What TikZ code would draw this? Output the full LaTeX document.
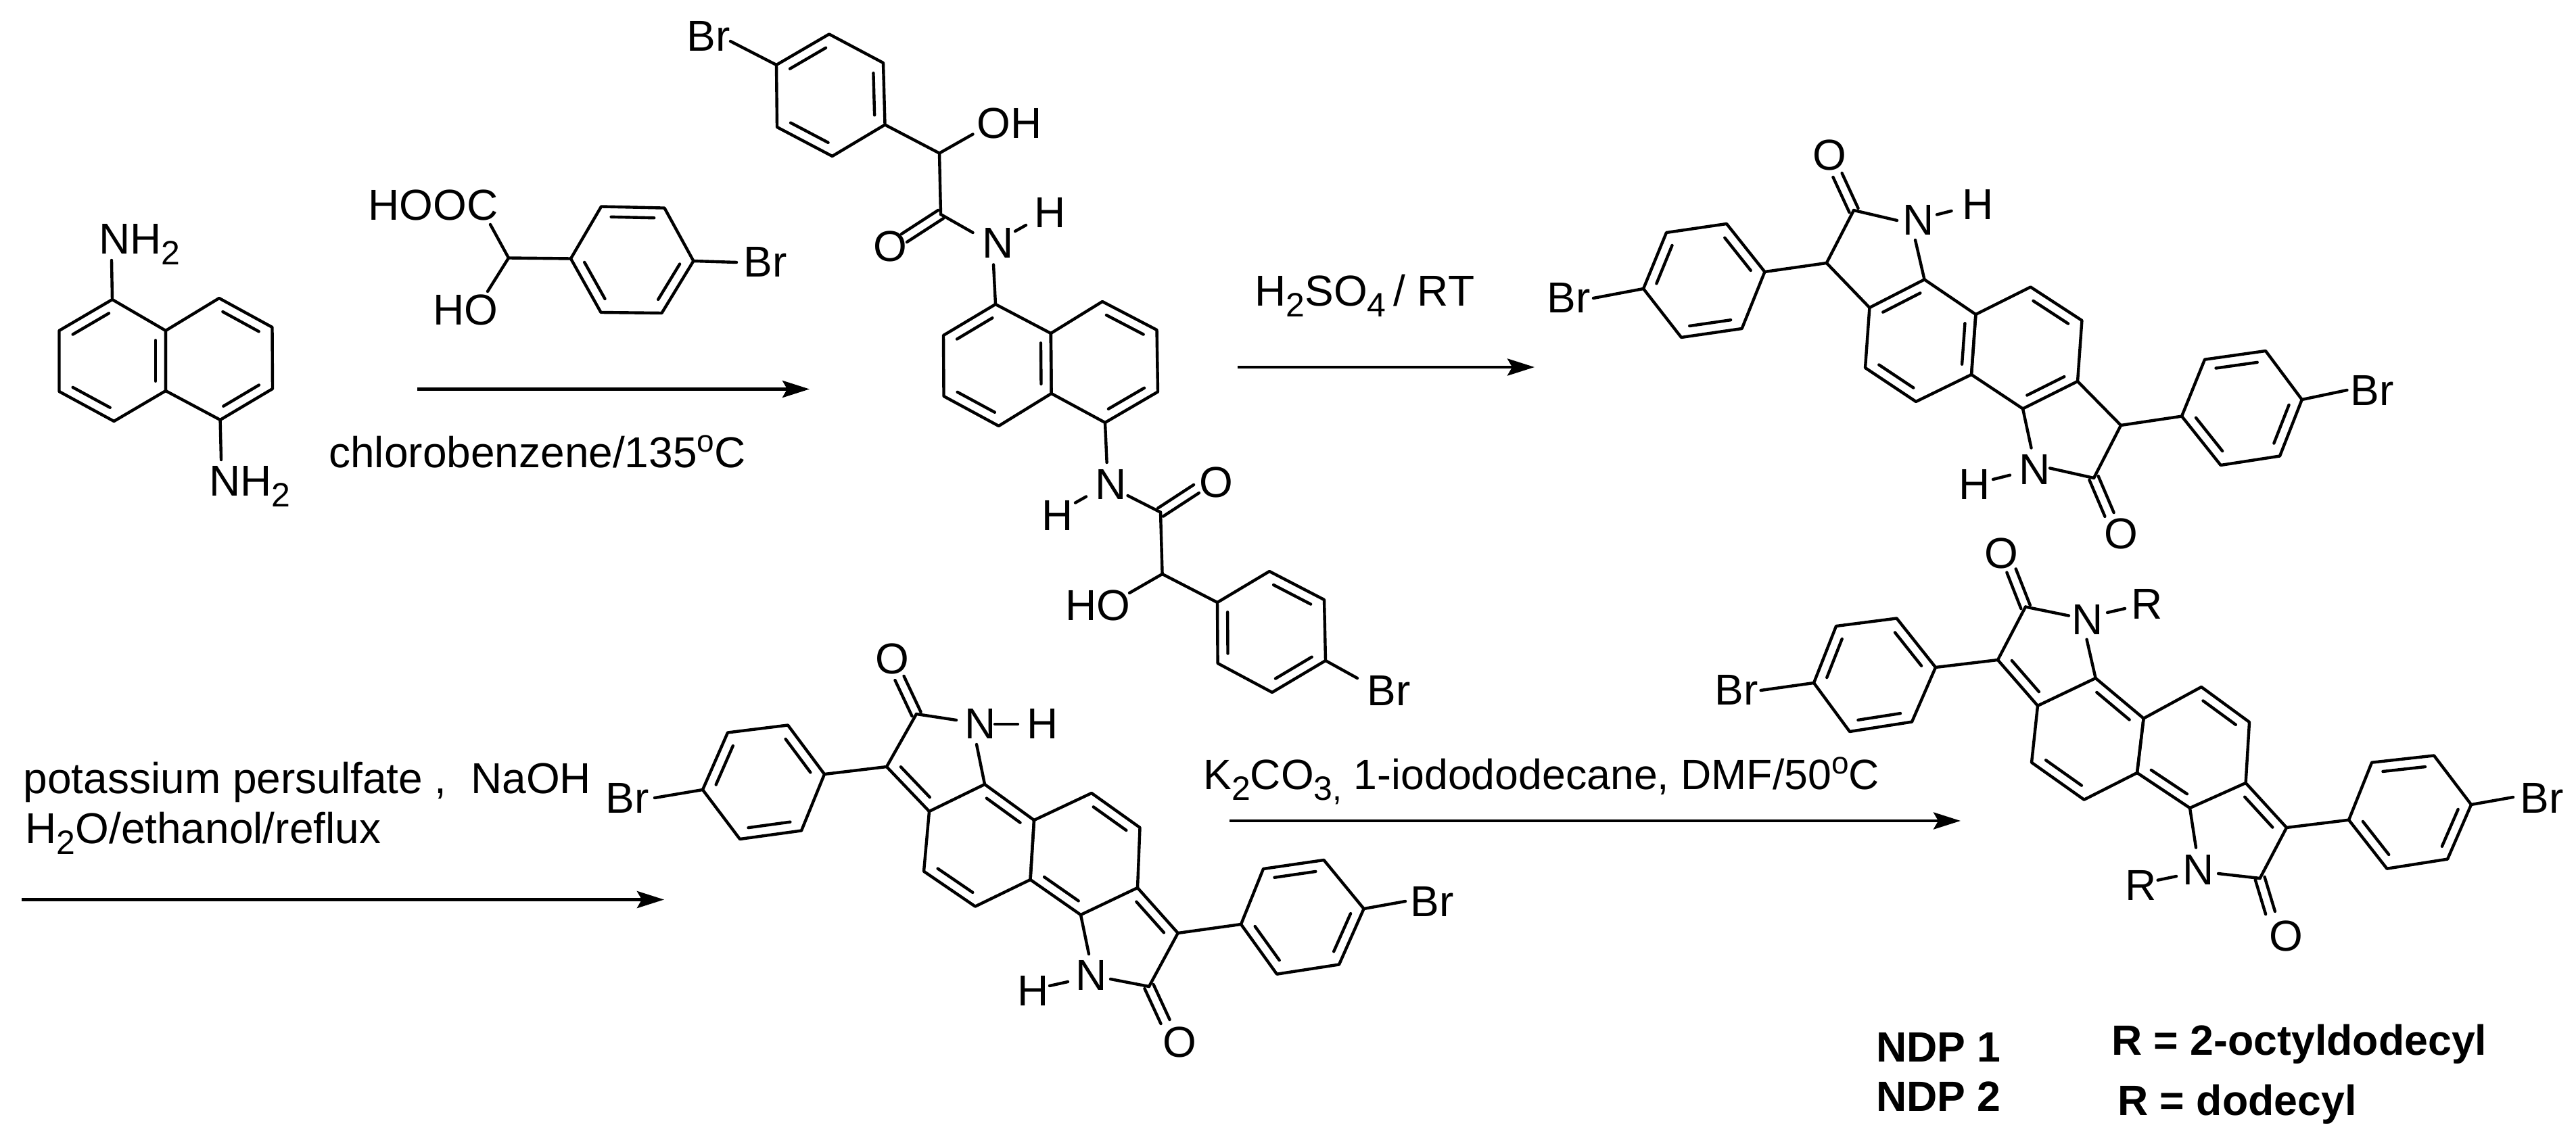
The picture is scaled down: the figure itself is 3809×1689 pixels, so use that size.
\documentclass[tikz,border=0pt]{standalone}
\usepackage{fontspec}
\setmainfont{Liberation Sans}
\usetikzlibrary{calc,arrows.meta}
\newcommand{\pt}[3]{\coordinate (#1) at (#2,#3);}
% six-membered ring: vertices listed clockwise on the page
\newcommand{\ringsix}[7]{%
  \coordinate (#1-1) at (#2);\coordinate (#1-2) at (#3);\coordinate (#1-3) at (#4);%
  \coordinate (#1-4) at (#5);\coordinate (#1-5) at (#6);\coordinate (#1-6) at (#7);%
  \draw[bond] (#1-1)--(#1-2)--(#1-3)--(#1-4)--(#1-5)--(#1-6)--cycle;}
% inner line of a double bond: a to b clockwise round the ring
\newcommand{\db}[2]{\draw[bond] ($(#1)!.16!(#2)!7.5pt!-90:(#2)$) -- ($(#2)!.16!(#1)!7.5pt!90:(#1)$);}
% centred double bond of a carbonyl
\newcommand{\co}[2]{\draw[bond] ($(#1)!3.6pt!90:(#2)$) -- ($(#2)!3.6pt!-90:(#1)$);
  \draw[bond] ($(#1)!3.6pt!-90:(#2)$) -- ($(#2)!3.6pt!90:(#1)$);}
\newcommand{\bd}[2]{\draw[bond] (#1) -- (#2);}
\newcommand{\lab}[4]{\node[lab] (#1) at (#2,#3) {#4};}
\newcommand{\subs}[1]{\raisebox{-8pt}{\fontsize{25}{25}\selectfont #1}}
\newcommand{\sups}[1]{\raisebox{11.5pt}{\fontsize{23}{23}\selectfont #1}}
\tikzset{
  bond/.style={line width=2.2pt,line join=round,line cap=round,black},
  lab/.style={inner sep=0pt,anchor=base west,font=\fontsize{32}{35}\selectfont},
  boldlab/.style={lab,font=\fontsize{31.3}{34}\selectfont\bfseries},
  rxn/.style={line width=2.4pt,-{Stealth[length=20pt,width=12.5pt,inset=3.5pt]}}
}
\begin{document}
\begin{tikzpicture}[x=.5pt,y=-.5pt]
\useasboundingbox (0,0) rectangle (3809,1689);
% --- 1,5-diaminonaphthalene
\ringsix{aL}{166,443}{245,489}{245,578}{168.5,623}{87.5,579}{87.5,489}
\ringsix{aR}{245,489}{324,441}{402.5,484}{403,575}{325.6,621}{245,578}
\db{aL-6}{aL-1}\db{aL-2}{aL-3}\db{aL-4}{aL-5}\db{aR-2}{aR-3}\db{aR-4}{aR-5}
\lab{aN1}{146}{376}{NH\subs{2}}
\lab{aN2}{309}{733}{NH\subs{2}}
\pt{aE1}{165}{385}\pt{aE2}{327}{680}
\bd{aL-1}{aE1}\bd{aR-5}{aE2}
% --- mandelic acid
\ringsix{b}{844,382.5}{889,305.5}{982.5,307.6}{1025.4,386}{978.5,463}{888.5,462}
\db{b-2}{b-3}\db{b-4}{b-5}\db{b-6}{b-1}
\pt{bC}{752}{381.5}\pt{bE1}{725}{332}\pt{bE2}{721}{431}\pt{bE3}{1089}{388}
\bd{bC}{b-1}\bd{bC}{bE1}\bd{bC}{bE2}\bd{b-4}{bE3}
\lab{bHOOC}{544}{326}{HOOC}
\lab{bHO}{640}{481}{HO}
\lab{bBr}{1099}{410}{Br}
% --- arrow 1
\pt{r1s}{617}{575.5}\pt{r1e}{1197}{575.5}
\draw[rxn] (r1s) -- (r1e);
\lab{r1t}{486}{691}{chlorobenzene/135\sups{o}C}
% --- bis-amide
\ringsix{cA}{1148,96}{1226,50.5}{1306,93}{1308.5,184.5}{1230.6,231}{1149,188}
\db{cA-1}{cA-2}\db{cA-3}{cA-4}\db{cA-5}{cA-6}
\lab{cBr1}{1015}{76}{Br}
\pt{cE1}{1080}{61}\bd{cE1}{cA-1}
\pt{cCH1}{1389}{226.6}\pt{cCO1}{1391}{317}\pt{cEO1}{1438.5}{198.5}\pt{cOe1}{1337}{352}
\bd{cA-4}{cCH1}\bd{cCH1}{cEO1}\bd{cCH1}{cCO1}\co{cCO1}{cOe1}
\lab{cOH1}{1444}{205}{OH}
\lab{cO1}{1291}{387}{O}
\lab{cN1}{1452}{382}{N}
\lab{cH1}{1529}{337}{H}
\pt{cEN1}{1438.5}{344}\bd{cCO1}{cEN1}
\pt{cNHa}{1501}{342}\pt{cNHb}{1517}{333}\bd{cNHa}{cNHb}
\ringsix{cL}{1472,450}{1553.8,493}{1554.6,582}{1476.7,630}{1395.5,586}{1395,496}
\ringsix{cR}{1553.8,493}{1630,446}{1710.5,488}{1712,579.5}{1634,625}{1554.6,582}
\db{cL-6}{cL-1}\db{cL-2}{cL-3}\db{cL-4}{cL-5}\db{cR-2}{cR-3}\db{cR-4}{cR-5}
\pt{cEN2}{1469}{391.4}\bd{cEN2}{cL-1}
\pt{cEN3}{1636.6}{684}\bd{cR-5}{cEN3}
\lab{cN2}{1619}{738}{N}
\lab{cH2}{1540}{784}{H}
\pt{cNHc}{1590}{743.6}\pt{cNHd}{1606}{734.5}\bd{cNHc}{cNHd}
\pt{cCO2}{1716}{757.6}\pt{cEN4}{1667.5}{733}\pt{cOe2}{1769}{723}\bd{cEN4}{cCO2}\co{cCO2}{cOe2}
\lab{cO2}{1773}{735}{O}
\pt{cCH2}{1718.6}{849}\pt{cEO2}{1670}{877}\bd{cCO2}{cCH2}\bd{cCH2}{cEO2}
\lab{cHO2}{1575}{917.6}{HO}
\ringsix{cB}{1800,891}{1877,845}{1958,887}{1960,977}{1881,1024}{1800.6,981}
\db{cB-2}{cB-3}\db{cB-4}{cB-5}\db{cB-6}{cB-1}
\bd{cCH2}{cB-1}
\pt{cE4}{2007}{1003}\bd{cB-4}{cE4}
\lab{cBr2}{2021}{1043}{Br}
% --- arrow 2
\pt{r2s}{1830}{543}\pt{r2e}{2269}{543}
\draw[rxn] (r2s) -- (r2e);
\lab{r2t}{1855}{452.5}{H\subs{2}SO\subs{4}\,/ RT}
% --- dihydro product
\ringsix{dP}{2430,427}{2464,344}{2553,331}{2609.4,402}{2575.6,486}{2486,499}
\db{dP-1}{dP-2}\db{dP-3}{dP-4}\db{dP-5}{dP-6}
\lab{dBr1}{2287}{462.5}{Br}
\pt{dE1}{2356}{441}\bd{dE1}{dP-1}
\ringsix{dL}{2845.5,413.4}{2921.4,465}{2915,554}{2833,594}{2758,544}{2764.4,455}
\ringsix{dR}{2921.4,465}{3002.5,424.5}{3078.4,474}{3072,564}{2991,604.5}{2915,554}
\db{dL-2}{dL-3}\db{dL-4}{dL-5}\db{dL-6}{dL-1}\db{dR-2}{dR-3}\db{dR-4}{dR-5}
\pt{dC3}{2700.8}{389}\pt{dC2}{2741}{311}\pt{dOe1}{2717}{259}
\bd{dP-4}{dC3}\bd{dC3}{dL-6}\bd{dC3}{dC2}\co{dC2}{dOe1}
\lab{dO1}{2680}{252}{O}
\lab{dN1}{2813}{348}{N}
\lab{dH1}{2901}{325}{H}
\pt{dEN1}{2805}{326}\bd{dC2}{dEN1}
\pt{dNHa}{2864}{317.4}\pt{dNHb}{2885.5}{312}\bd{dNHa}{dNHb}
\pt{dEN2}{2832}{355}\bd{dEN2}{dL-1}
\ringsix{dQ}{3226,615.6}{3260,531.7}{3350,519}{3403.7,591}{3371,674.5}{3283.6,688}
\db{dQ-2}{dQ-3}\db{dQ-4}{dQ-5}\db{dQ-6}{dQ-1}
\lab{dBr2}{3475.5}{600}{Br}
\pt{dE2}{3470.4}{577}\bd{dQ-4}{dE2}
\pt{dC3b}{3136}{629}\pt{dC2b}{3096}{707}\pt{dOe2}{3119}{761}
\bd{dR-4}{dC3b}\bd{dC3b}{dQ-1}\bd{dC3b}{dC2b}\co{dC2b}{dOe2}
\lab{dO2}{3111}{811.6}{O}
\lab{dN2}{2985}{716}{N}
\lab{dH2}{2896}{738}{H}
\pt{dEN3}{3003.5}{662.5}\bd{dR-5}{dEN3}
\pt{dNHc}{2947}{709}\pt{dNHd}{2972}{702.7}\bd{dNHc}{dNHd}
\pt{dEN4}{3031}{692.4}\bd{dEN4}{dC2b}
% --- oxidation conditions and arrow 3
\lab{r3a}{34.4}{1173.6}{potassium persulfate ,\ \ NaOH}
\lab{r3b}{37}{1247}{H\subs{2}O/ethanol/reflux}
\pt{r3s}{32}{1330.5}\pt{r3e}{982}{1330.5}
\draw[rxn] (r3s) -- (r3e);
% --- NH dione
\ringsix{eP}{1039,1168}{1076,1083.5}{1165,1072.5}{1219,1145}{1185,1228.5}{1094,1241}
\db{eP-1}{eP-2}\db{eP-3}{eP-4}\db{eP-5}{eP-6}
\lab{eBr1}{895.5}{1202}{Br}
\pt{eE1}{968}{1180}\bd{eE1}{eP-1}
\ringsix{eL}{1456,1160}{1529,1213}{1523.5,1301}{1442,1340.6}{1366,1288.7}{1374,1200}
\ringsix{eR}{1529,1213}{1614,1173}{1685.5,1224}{1682,1313}{1598,1353}{1523.5,1301}
\db{eL-1}{eL-2}\db{eL-4}{eL-5}\db{eR-2}{eR-3}\db{eR-5}{eR-6}
\pt{eC3}{1311}{1134}\pt{eC2}{1355}{1056}\pt{eOe1}{1330}{1003}
\bd{eP-4}{eC3}\bd{eC3}{eL-6}\db{eL-6}{eC3}\bd{eC3}{eC2}\co{eC2}{eOe1}
\lab{eO1}{1294}{996}{O}
\lab{eN1}{1426}{1092}{N}
\lab{eH1}{1518}{1092}{H}
\pt{eEN1}{1414}{1065}\bd{eC2}{eEN1}
\pt{eNHa}{1471}{1071}\pt{eNHb}{1505}{1071}\bd{eNHa}{eNHb}
\pt{eEN2}{1444}{1101}\bd{eEN2}{eL-1}
\ringsix{eQ}{1835,1367}{1868,1285}{1957.5,1272}{2016.6,1344}{1980,1426.5}{1888,1440.7}
\db{eQ-2}{eQ-3}\db{eQ-4}{eQ-5}\db{eQ-6}{eQ-1}
\pt{eC3b}{1741.7}{1380}\pt{eC2b}{1699}{1459}\pt{eOe2}{1723}{1511}
\bd{eR-4}{eC3b}\db{eR-4}{eC3b}\bd{eC3b}{eQ-1}\bd{eC3b}{eC2b}\co{eC2b}{eOe2}
\lab{eO2}{1719}{1563}{O}
\lab{eN2}{1590}{1464.5}{N}
\lab{eH2}{1504}{1487}{H}
\pt{eEN3}{1610}{1411}\bd{eR-5}{eEN3}
\pt{eNHc}{1552}{1458}\pt{eNHd}{1579}{1452}\bd{eNHc}{eNHd}
\pt{eEN4}{1642}{1448}\bd{eEN4}{eC2b}
\pt{eE2}{2078}{1333}\bd{eQ-4}{eE2}
\lab{eBr2}{2085}{1355.6}{Br}
% --- arrow 4
\lab{r4t}{1779}{1167}{\fontsize{31.3}{34}\selectfont K\subs{2}CO\subs{3,}\ 1-iodododecane, DMF/50\sups{o}C}
\pt{r4s}{1818}{1214}\pt{r4e}{2899}{1214}
\draw[rxn] (r4s) -- (r4e);
% --- NDP
\ringsix{fP}{2682,1010}{2715,926}{2804.5,914.5}{2862,987}{2827,1067.6}{2735,1082}
\db{fP-1}{fP-2}\db{fP-3}{fP-4}\db{fP-5}{fP-6}
\lab{fBr1}{2535}{1042.6}{Br}
\pt{fE1}{2603.6}{1021}\bd{fE1}{fP-1}
\ringsix{fL}{3098.6,1003}{3169.6,1062.5}{3160,1143}{3081.6,1182.7}{3004,1127.7}{3013,1043.8}
\ringsix{fR}{3169.6,1062.5}{3255,1016}{3326,1068}{3320.6,1158}{3238,1195}{3160,1143}
\db{fL-1}{fL-2}\db{fL-4}{fL-5}\db{fR-2}{fR-3}\db{fR-5}{fR-6}
\pt{fC3}{2954}{976}\pt{fC2}{2995}{897.5}\pt{fOe1}{2974}{844}
\bd{fP-4}{fC3}\bd{fC3}{fL-6}\db{fL-6}{fC3}\bd{fC3}{fC2}\co{fC2}{fOe1}
\lab{fO1}{2934}{840}{O}
\lab{fN1}{3063}{938}{N}
\lab{fR1}{3151}{915}{R}
\pt{fEN1}{3059}{910.6}\bd{fC2}{fEN1}
\pt{fNRa}{3116}{906}\pt{fNRb}{3142}{900}\bd{fNRa}{fNRb}
\pt{fEN2}{3085.5}{945.7}\bd{fEN2}{fL-1}
\ringsix{fQ}{3473,1212.7}{3507,1127.7}{3599,1117.5}{3654,1190}{3619,1270.6}{3529.4,1284.7}
\db{fQ-2}{fQ-3}\db{fQ-4}{fQ-5}\db{fQ-6}{fQ-1}
\pt{fC3b}{3381}{1224}\pt{fC2b}{3341.6}{1299}\pt{fOe2}{3357}{1350}
\bd{fR-4}{fC3b}\db{fR-4}{fC3b}\bd{fC3b}{fQ-1}\bd{fC3b}{fC2b}\co{fC2b}{fOe2}
\lab{fO2}{3355}{1406.7}{O}
\lab{fN2}{3227}{1308.6}{N}
\lab{fR2}{3142}{1331}{R}
\pt{fEN3}{3247}{1253.6}\bd{fR-5}{fEN3}
\pt{fNRc}{3190.6}{1301.7}\pt{fNRd}{3218}{1296}\bd{fNRc}{fNRd}
\pt{fEN4}{3280}{1292}\bd{fEN4}{fC2b}
\pt{fE2}{3716}{1179}\bd{fQ-4}{fE2}
\lab{fBr2}{3726}{1202.5}{Br}
% --- legend
\node[boldlab] (ndp1) at (2774,1570) {NDP 1};
\node[boldlab] (ndp2) at (2774,1643.6) {NDP 2};
\node[boldlab] (rr1) at (3122,1560) {R = 2-octyldodecyl};
\node[boldlab] (rr2) at (3131,1649) {R = dodecyl};
\end{tikzpicture}
\end{document}
